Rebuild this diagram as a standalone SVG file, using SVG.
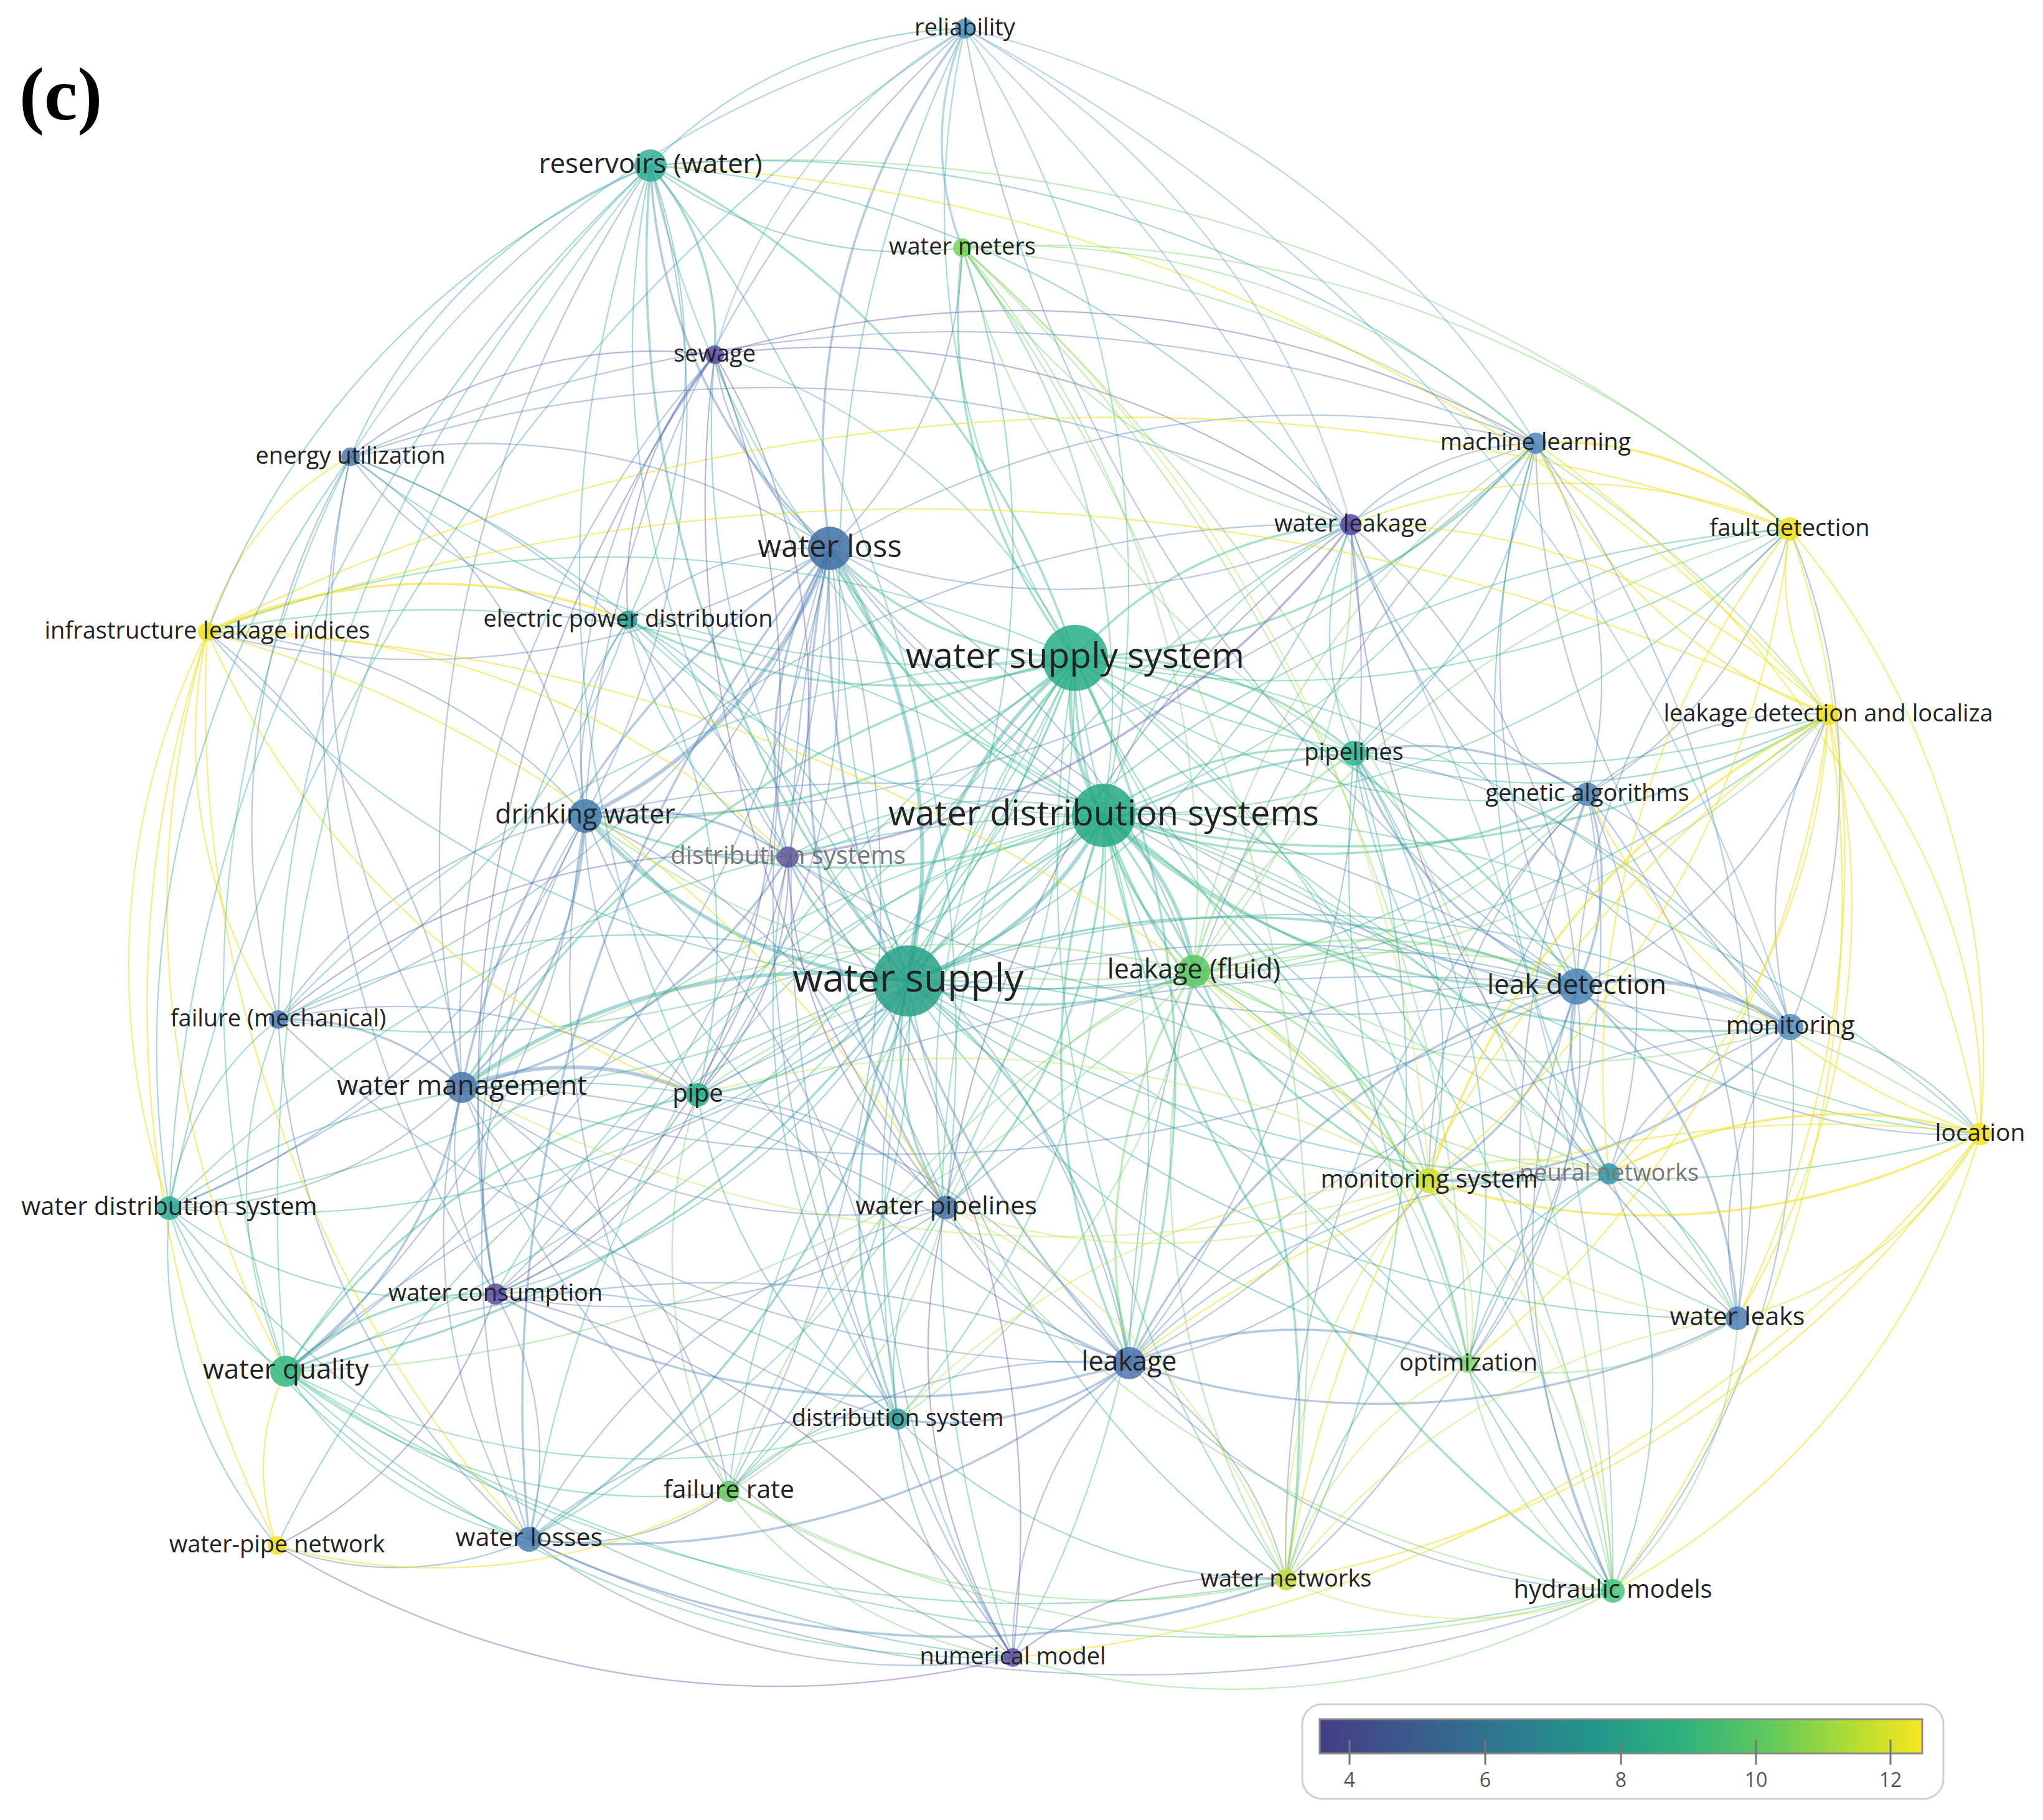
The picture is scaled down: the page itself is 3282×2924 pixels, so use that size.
<svg xmlns="http://www.w3.org/2000/svg" width="3282" height="2924" viewBox="0 0 3282 2924">
<defs>
<linearGradient id="vir" x1="0" y1="0" x2="1" y2="0">
<stop offset="0" stop-color="#443d84"/><stop offset="0.15" stop-color="#3b5a8c"/><stop offset="0.3" stop-color="#2e778e"/><stop offset="0.45" stop-color="#22958a"/><stop offset="0.6" stop-color="#2db27d"/><stop offset="0.75" stop-color="#62c95b"/><stop offset="0.88" stop-color="#b0dc34"/><stop offset="1" stop-color="#f8e621"/>
</linearGradient>
<style>
.e path{fill:none;stroke-linecap:round;stroke-opacity:.42}
.T{stroke:#2aa39a}.G{stroke:#33b585}.B{stroke:#4f80b8}.P{stroke:#5d52b0}.N{stroke:#6dcf63}.L{stroke:#bfdf3c}.Y{stroke:#efe020;stroke-opacity:.58!important}.C{stroke:#5aa0cc}
.a{stroke-width:2.2}.b{stroke-width:3.6}.c{stroke-width:6}
.n text{font-family:"Open Sans","DejaVu Sans",sans-serif;fill:#222;text-anchor:middle}
.n circle{fill-opacity:.85}
.gr{fill:#777!important}
</style>
</defs>
<rect width="3282" height="2924" fill="#fff"/>
<text x="31" y="192" font-family="Liberation Serif" font-weight="bold" font-size="120" fill="#000">(c)</text>
<g id="connectors" class="e">
<path class="T b" d="M1459 1576A1800 1800 0 0 1 1045 266"/>
<path class="T a" d="M1459 1576A1500 1500 0 0 0 1546 398"/>
<path class="T a" d="M1459 1576A1400 1400 0 0 1 1148 570"/>
<path class="T a" d="M1459 1576A1600 1600 0 0 0 563 734"/>
<path class="T a" d="M1459 1576A1700 1700 0 0 1 2467 712"/>
<path class="T a" d="M1459 1576A1300 1300 0 0 0 2170 843"/>
<path class="T a" d="M1459 1576A2000 2000 0 0 1 2875 850"/>
<path class="T c" d="M1459 1576A900 900 0 0 0 1333 881"/>
<path class="T a" d="M1459 1576A1600 1600 0 0 1 333 1015"/>
<path class="T a" d="M1459 1576A950 950 0 0 0 1009 996"/>
<path class="T c" d="M1459 1576A760 760 0 0 1 1727 1057"/>
<path class="T a" d="M1459 1576A2000 2000 0 0 0 2937 1148"/>
<path class="T b" d="M1459 1576A1050 1050 0 0 1 2175 1210"/>
<path class="T a" d="M1459 1576A1450 1450 0 0 0 2550 1276"/>
<path class="T c" d="M1459 1576A760 760 0 0 1 940 1311"/>
<path class="T c" d="M1459 1576A540 540 0 0 0 1773 1310"/>
<path class="T b" d="M1459 1576A360 360 0 0 1 1266 1377"/>
<path class="T b" d="M1459 1576A600 600 0 0 0 1918 1560"/>
<path class="T b" d="M1459 1576A1400 1400 0 0 1 2533 1585"/>
<path class="T a" d="M1459 1576A1300 1300 0 0 0 447 1638"/>
<path class="T a" d="M1459 1576A1850 1850 0 0 1 2876 1650"/>
<path class="T c" d="M1459 1576A960 960 0 0 0 742 1747"/>
<path class="T b" d="M1459 1576A500 500 0 0 1 1121 1759"/>
<path class="T a" d="M1459 1576A2250 2250 0 0 0 3181 1822"/>
<path class="T a" d="M1459 1576A1150 1150 0 0 1 2296 1897"/>
<path class="T a" d="M1459 1576A1500 1500 0 0 0 2585 1886"/>
<path class="T a" d="M1459 1576A1600 1600 0 0 1 272 1941"/>
<path class="T b" d="M1459 1576A480 480 0 0 0 1520 1940"/>
<path class="T a" d="M1459 1576A1080 1080 0 0 1 796 2079"/>
<path class="T a" d="M1459 1576A1850 1850 0 0 0 2791 2118"/>
<path class="T b" d="M1459 1576A920 920 0 0 1 1814 2190"/>
<path class="T a" d="M1459 1576A1400 1400 0 0 0 2359 2191"/>
<path class="T b" d="M1459 1576A1530 1530 0 0 1 459 2203"/>
<path class="T b" d="M1459 1576A920 920 0 0 0 1442 2280"/>
<path class="T a" d="M1459 1576A1130 1130 0 0 1 1171 2396"/>
<path class="T a" d="M1459 1576A1770 1770 0 0 0 445 2483"/>
<path class="T b" d="M1459 1576A1400 1400 0 0 1 850 2473"/>
<path class="T a" d="M1459 1576A1480 1480 0 0 0 2066 2538"/>
<path class="T a" d="M1459 1576A1950 1950 0 0 1 2591 2556"/>
<path class="T a" d="M1459 1576A1430 1430 0 0 0 1627 2663"/>
<path class="T a" d="M1459 1576A2000 2000 0 0 1 1550 46"/>
<path class="G b" d="M1727 1057A1350 1350 0 0 0 1045 266"/>
<path class="G b" d="M1727 1057A890 890 0 0 1 1546 398"/>
<path class="G a" d="M1727 1057A980 980 0 0 0 1148 570"/>
<path class="G a" d="M1727 1057A1570 1570 0 0 1 563 734"/>
<path class="G b" d="M1727 1057A1060 1060 0 0 0 2467 712"/>
<path class="G b" d="M1727 1057A640 640 0 0 1 2170 843"/>
<path class="G a" d="M1727 1057A1500 1500 0 0 0 2875 850"/>
<path class="G b" d="M1727 1057A560 560 0 0 1 1333 881"/>
<path class="G a" d="M1727 1057A1800 1800 0 0 0 333 1015"/>
<path class="G b" d="M1727 1057A940 940 0 0 1 1009 996"/>
<path class="G a" d="M1727 1057A1580 1580 0 0 0 2937 1148"/>
<path class="G b" d="M1727 1057A620 620 0 0 1 2175 1210"/>
<path class="G a" d="M1727 1057A1100 1100 0 0 0 2550 1276"/>
<path class="G b" d="M1727 1057A1080 1080 0 0 1 940 1311"/>
<path class="G c" d="M1727 1057A340 340 0 0 0 1773 1310"/>
<path class="G a" d="M1727 1057A730 730 0 0 1 1266 1377"/>
<path class="G b" d="M1727 1057A700 700 0 0 0 1918 1560"/>
<path class="G b" d="M1727 1057A1250 1250 0 0 1 2533 1585"/>
<path class="G a" d="M1727 1057A1830 1830 0 0 0 447 1638"/>
<path class="G a" d="M1727 1057A1680 1680 0 0 1 2876 1650"/>
<path class="G b" d="M1727 1057A1560 1560 0 0 0 742 1747"/>
<path class="G a" d="M1727 1057A1200 1200 0 0 1 1121 1759"/>
<path class="G a" d="M1727 1057A2140 2140 0 0 0 3181 1822"/>
<path class="G a" d="M1727 1057A1320 1320 0 0 1 2296 1897"/>
<path class="G a" d="M1727 1057A1550 1550 0 0 0 2585 1886"/>
<path class="G a" d="M1727 1057A2200 2200 0 0 1 272 1941"/>
<path class="G a" d="M1727 1057A1180 1180 0 0 0 1520 1940"/>
<path class="G a" d="M1727 1057A1800 1800 0 0 1 796 2079"/>
<path class="G a" d="M1727 1057A1950 1950 0 0 0 2791 2118"/>
<path class="G b" d="M1727 1057A1480 1480 0 0 1 1814 2190"/>
<path class="G a" d="M1727 1057A1690 1690 0 0 0 2359 2191"/>
<path class="G a" d="M1727 1057A2220 2220 0 0 1 459 2203"/>
<path class="G a" d="M1727 1057A1630 1630 0 0 0 1442 2280"/>
<path class="G a" d="M1727 1057A1880 1880 0 0 1 1171 2396"/>
<path class="G a" d="M1727 1057A1970 1970 0 0 0 2066 2538"/>
<path class="G a" d="M1727 1057A2250 2250 0 0 1 2591 2556"/>
<path class="G a" d="M1727 1057A2090 2090 0 0 0 1627 2663"/>
<path class="G a" d="M1727 1057A1330 1330 0 0 1 1550 46"/>
<path class="G a" d="M1727 1057A2170 2170 0 0 0 850 2473"/>
<path class="G a" d="M1773 1310A1650 1650 0 0 1 1045 266"/>
<path class="G a" d="M1773 1310A1220 1220 0 0 0 1546 398"/>
<path class="G a" d="M1773 1310A1260 1260 0 0 1 1148 570"/>
<path class="G a" d="M1773 1310A1190 1190 0 0 0 2467 712"/>
<path class="G a" d="M1773 1310A800 800 0 0 1 2170 843"/>
<path class="G a" d="M1773 1310A1550 1550 0 0 0 2875 850"/>
<path class="G b" d="M1773 1310A800 800 0 0 1 1333 881"/>
<path class="G a" d="M1773 1310A1910 1910 0 0 0 333 1015"/>
<path class="G a" d="M1773 1310A1070 1070 0 0 1 1009 996"/>
<path class="G b" d="M1773 1310A1530 1530 0 0 0 2937 1148"/>
<path class="G b" d="M1773 1310A540 540 0 0 1 2175 1210"/>
<path class="G b" d="M1773 1310A1010 1010 0 0 0 2550 1276"/>
<path class="G b" d="M1773 1310A1080 1080 0 0 1 940 1311"/>
<path class="G a" d="M1773 1310A660 660 0 0 0 1266 1377"/>
<path class="G c" d="M1773 1310A380 380 0 0 1 1918 1560"/>
<path class="G b" d="M1773 1310A1050 1050 0 0 0 2533 1585"/>
<path class="G a" d="M1773 1310A1780 1780 0 0 1 447 1638"/>
<path class="G b" d="M1773 1310A1500 1500 0 0 0 2876 1650"/>
<path class="G a" d="M1773 1310A1460 1460 0 0 1 742 1747"/>
<path class="G a" d="M1773 1310A1030 1030 0 0 0 1121 1759"/>
<path class="G a" d="M1773 1310A1950 1950 0 0 1 3181 1822"/>
<path class="G b" d="M1773 1310A1020 1020 0 0 0 2296 1897"/>
<path class="G a" d="M1773 1310A1290 1290 0 0 1 2585 1886"/>
<path class="G a" d="M1773 1310A2120 2120 0 0 0 272 1941"/>
<path class="G b" d="M1773 1310A880 880 0 0 1 1520 1940"/>
<path class="G a" d="M1773 1310A1620 1620 0 0 0 796 2079"/>
<path class="G a" d="M1773 1310A1690 1690 0 0 1 2791 2118"/>
<path class="G b" d="M1773 1310A1150 1150 0 0 0 1814 2190"/>
<path class="G b" d="M1773 1310A1380 1380 0 0 1 2359 2191"/>
<path class="G a" d="M1773 1310A2070 2070 0 0 0 459 2203"/>
<path class="G a" d="M1773 1310A1330 1330 0 0 1 1442 2280"/>
<path class="G a" d="M1773 1310A1610 1610 0 0 0 1171 2396"/>
<path class="G b" d="M1773 1310A1640 1640 0 0 1 2066 2538"/>
<path class="G b" d="M1773 1310A1940 1940 0 0 0 2591 2556"/>
<path class="G a" d="M1773 1310A1770 1770 0 0 1 1627 2663"/>
<path class="G a" d="M1773 1310A1670 1670 0 0 0 1550 46"/>
<path class="G a" d="M1773 1310A1930 1930 0 0 1 850 2473"/>
<path class="B b" d="M1333 881A880 880 0 0 1 1045 266"/>
<path class="B a" d="M1333 881A690 690 0 0 0 1546 398"/>
<path class="B a" d="M1333 881A470 470 0 0 1 1148 570"/>
<path class="B a" d="M1333 881A1020 1020 0 0 0 563 734"/>
<path class="B a" d="M1333 881A1490 1490 0 0 1 2467 712"/>
<path class="B a" d="M1333 881A1090 1090 0 0 0 2170 843"/>
<path class="B a" d="M1333 881A1310 1310 0 0 1 333 1015"/>
<path class="B a" d="M1333 881A450 450 0 0 0 1009 996"/>
<path class="B c" d="M1333 881A760 760 0 0 1 940 1311"/>
<path class="B b" d="M1333 881A650 650 0 0 0 1266 1377"/>
<path class="B a" d="M1333 881A1160 1160 0 0 1 1918 1560"/>
<path class="B a" d="M1333 881A1810 1810 0 0 0 2533 1585"/>
<path class="B a" d="M1333 881A1520 1520 0 0 1 447 1638"/>
<path class="B b" d="M1333 881A1360 1360 0 0 0 742 1747"/>
<path class="B a" d="M1333 881A1170 1170 0 0 1 1121 1759"/>
<path class="B b" d="M1333 881A1400 1400 0 0 0 1520 1940"/>
<path class="B a" d="M1333 881A1710 1710 0 0 1 796 2079"/>
<path class="B b" d="M1333 881A1810 1810 0 0 0 1814 2190"/>
<path class="B a" d="M1333 881A2060 2060 0 0 1 459 2203"/>
<path class="B a" d="M1333 881A1820 1820 0 0 0 1442 2280"/>
<path class="B a" d="M1333 881A1980 1980 0 0 1 1171 2396"/>
<path class="B b" d="M1333 881A2160 2160 0 0 0 850 2473"/>
<path class="B a" d="M1333 881A1950 1950 0 0 1 272 1941"/>
<path class="B a" d="M1333 881A2240 2240 0 0 0 2876 1650"/>
<path class="B b" d="M1333 881A1120 1120 0 0 1 1550 46"/>
<path class="B a" d="M1333 881A2350 2350 0 0 0 1627 2663"/>
<path class="N a" d="M1918 1560A1590 1590 0 0 0 1546 398"/>
<path class="N b" d="M1918 1560A560 560 0 0 1 2175 1210"/>
<path class="N a" d="M1918 1560A900 900 0 0 0 2550 1276"/>
<path class="N b" d="M1918 1560A800 800 0 0 1 2533 1585"/>
<path class="N a" d="M1918 1560A1250 1250 0 0 0 2876 1650"/>
<path class="N b" d="M1918 1560A660 660 0 0 1 2296 1897"/>
<path class="N a" d="M1918 1560A960 960 0 0 0 2585 1886"/>
<path class="N a" d="M1918 1560A1680 1680 0 0 1 3181 1822"/>
<path class="N b" d="M1918 1560A830 830 0 0 0 1814 2190"/>
<path class="N a" d="M1918 1560A1000 1000 0 0 1 2359 2191"/>
<path class="N a" d="M1918 1560A1290 1290 0 0 0 2066 2538"/>
<path class="N a" d="M1918 1560A1560 1560 0 0 1 2591 2556"/>
<path class="N a" d="M1918 1560A720 720 0 0 0 1520 1940"/>
<path class="N a" d="M1918 1560A1120 1120 0 0 1 1442 2280"/>
<path class="N a" d="M1918 1560A1460 1460 0 0 0 1171 2396"/>
<path class="N a" d="M1918 1560A1350 1350 0 0 1 2791 2118"/>
<path class="N a" d="M1918 1560A1430 1430 0 0 0 2937 1148"/>
<path class="N a" d="M1918 1560A1550 1550 0 0 1 2875 850"/>
<path class="N a" d="M1918 1560A990 990 0 0 0 2170 843"/>
<path class="N a" d="M1918 1560A1310 1310 0 0 1 2467 712"/>
<path class="N a" d="M1918 1560A1070 1070 0 0 0 1121 1759"/>
<path class="N a" d="M1918 1560A1310 1310 0 0 1 940 1311"/>
<path class="N a" d="M1918 1560A1550 1550 0 0 0 742 1747"/>
<path class="N a" d="M1918 1560A2070 2070 0 0 1 459 2203"/>
<path class="B a" d="M2533 1585A1140 1140 0 0 1 2467 712"/>
<path class="B a" d="M2533 1585A1070 1070 0 0 0 2170 843"/>
<path class="B a" d="M2533 1585A1050 1050 0 0 1 2875 850"/>
<path class="B a" d="M2533 1585A770 770 0 0 0 2937 1148"/>
<path class="B b" d="M2533 1585A670 670 0 0 1 2175 1210"/>
<path class="B b" d="M2533 1585A400 400 0 0 0 2550 1276"/>
<path class="B c" d="M2533 1585A450 450 0 0 1 2876 1650"/>
<path class="B a" d="M2533 1585A900 900 0 0 0 3181 1822"/>
<path class="B b" d="M2533 1585A510 510 0 0 1 2296 1897"/>
<path class="B b" d="M2533 1585A400 400 0 0 0 2585 1886"/>
<path class="B b" d="M2533 1585A770 770 0 0 1 2791 2118"/>
<path class="B b" d="M2533 1585A1220 1220 0 0 0 1814 2190"/>
<path class="B a" d="M2533 1585A820 820 0 0 1 2359 2191"/>
<path class="B a" d="M2533 1585A1260 1260 0 0 0 2591 2556"/>
<path class="B a" d="M2533 1585A1380 1380 0 0 1 2066 2538"/>
<path class="B a" d="M2533 1585A2100 2100 0 0 0 940 1311"/>
<path class="B a" d="M2533 1585A2340 2340 0 0 1 742 1747"/>
<path class="B a" d="M2533 1585A1400 1400 0 0 0 1520 1940"/>
<path class="B a" d="M2533 1585A2370 2370 0 0 1 1550 46"/>
<path class="B a" d="M2533 1585A1850 1850 0 0 0 1121 1759"/>
<path class="B a" d="M2533 1585A1670 1670 0 0 1 1266 1377"/>
<path class="B a" d="M2533 1585A2800 2800 0 0 0 459 2203"/>
<path class="B a" d="M940 1311A1370 1370 0 0 0 1045 266"/>
<path class="B a" d="M940 1311A1000 1000 0 0 1 1148 570"/>
<path class="B a" d="M940 1311A900 900 0 0 0 563 734"/>
<path class="B a" d="M940 1311A420 420 0 0 1 1009 996"/>
<path class="B a" d="M940 1311A880 880 0 0 0 333 1015"/>
<path class="B b" d="M940 1311A430 430 0 0 1 1266 1377"/>
<path class="B a" d="M940 1311A770 770 0 0 0 447 1638"/>
<path class="B b" d="M940 1311A620 620 0 0 1 742 1747"/>
<path class="B a" d="M940 1311A630 630 0 0 0 1121 1759"/>
<path class="B a" d="M940 1311A1190 1190 0 0 1 272 1941"/>
<path class="B a" d="M940 1311A1020 1020 0 0 0 796 2079"/>
<path class="B a" d="M940 1311A1320 1320 0 0 1 459 2203"/>
<path class="B a" d="M940 1311A1510 1510 0 0 0 850 2473"/>
<path class="B a" d="M940 1311A1110 1110 0 0 1 1520 1940"/>
<path class="B a" d="M940 1311A1610 1610 0 0 0 1814 2190"/>
<path class="B a" d="M940 1311A1420 1420 0 0 1 1442 2280"/>
<path class="B a" d="M940 1311A1440 1440 0 0 0 1171 2396"/>
<path class="B a" d="M940 1311A1830 1830 0 0 1 1550 46"/>
<path class="B a" d="M940 1311A2130 2130 0 0 0 2467 712"/>
<path class="B a" d="M940 1311A1710 1710 0 0 1 2170 843"/>
<path class="B a" d="M742 1747A1340 1340 0 0 1 563 734"/>
<path class="B b" d="M742 1747A410 410 0 0 0 447 1638"/>
<path class="B a" d="M742 1747A660 660 0 0 1 272 1941"/>
<path class="B a" d="M742 1747A440 440 0 0 0 796 2079"/>
<path class="B b" d="M742 1747A700 700 0 0 1 459 2203"/>
<path class="B a" d="M742 1747A950 950 0 0 0 850 2473"/>
<path class="B c" d="M742 1747A490 490 0 0 1 1121 1759"/>
<path class="B a" d="M742 1747A1040 1040 0 0 0 1520 1940"/>
<path class="B a" d="M742 1747A1510 1510 0 0 1 1814 2190"/>
<path class="B a" d="M742 1747A1140 1140 0 0 0 1442 2280"/>
<path class="B a" d="M742 1747A1010 1010 0 0 1 1171 2396"/>
<path class="B a" d="M742 1747A1090 1090 0 0 0 333 1015"/>
<path class="B a" d="M742 1747A1970 1970 0 0 1 1045 266"/>
<path class="B b" d="M742 1747A830 830 0 0 0 1266 1377"/>
<path class="B a" d="M742 1747A1620 1620 0 0 1 1148 570"/>
<path class="B a" d="M742 1747A1650 1650 0 0 0 1627 2663"/>
<path class="B a" d="M1814 2190A1810 1810 0 0 0 2170 843"/>
<path class="B a" d="M1814 2190A2100 2100 0 0 1 2467 712"/>
<path class="B a" d="M1814 2190A1520 1520 0 0 0 2550 1276"/>
<path class="B a" d="M1814 2190A1550 1550 0 0 1 2876 1650"/>
<path class="B b" d="M1814 2190A1270 1270 0 0 0 2791 2118"/>
<path class="B b" d="M1814 2190A710 710 0 0 1 2359 2191"/>
<path class="B a" d="M1814 2190A1120 1120 0 0 0 2591 2556"/>
<path class="B a" d="M1814 2190A560 560 0 0 1 2066 2538"/>
<path class="B a" d="M1814 2190A660 660 0 0 0 1627 2663"/>
<path class="B b" d="M1814 2190A500 500 0 0 1 1442 2280"/>
<path class="B a" d="M1814 2190A880 880 0 0 0 1171 2396"/>
<path class="B b" d="M1814 2190A1310 1310 0 0 1 850 2473"/>
<path class="B a" d="M1814 2190A1760 1760 0 0 0 459 2203"/>
<path class="B b" d="M1814 2190A1330 1330 0 0 1 796 2079"/>
<path class="B a" d="M1814 2190A1060 1060 0 0 0 1121 1759"/>
<path class="B a" d="M1814 2190A500 500 0 0 1 1520 1940"/>
<path class="B a" d="M1814 2190A730 730 0 0 0 2296 1897"/>
<path class="B a" d="M1814 2190A1080 1080 0 0 1 2585 1886"/>
<path class="B a" d="M1814 2190A1270 1270 0 0 0 1266 1377"/>
<path class="B a" d="M1814 2190A1920 1920 0 0 1 447 1638"/>
<path class="B a" d="M2876 1650A1330 1330 0 0 1 2467 712"/>
<path class="B a" d="M2876 1650A1040 1040 0 0 0 2875 850"/>
<path class="B a" d="M2876 1650A660 660 0 0 1 2937 1148"/>
<path class="B a" d="M2876 1650A640 640 0 0 0 2550 1276"/>
<path class="B a" d="M2876 1650A450 450 0 0 1 3181 1822"/>
<path class="B a" d="M2876 1650A490 490 0 0 0 2585 1886"/>
<path class="B b" d="M2876 1650A820 820 0 0 1 2296 1897"/>
<path class="B a" d="M2876 1650A620 620 0 0 0 2791 2118"/>
<path class="B a" d="M2876 1650A1240 1240 0 0 1 2591 2556"/>
<path class="B a" d="M2876 1650A1080 1080 0 0 0 2175 1210"/>
<path class="B a" d="M2876 1650A1400 1400 0 0 1 2170 843"/>
<path class="B a" d="M2550 1276A740 740 0 0 0 2467 712"/>
<path class="B a" d="M2550 1276A750 750 0 0 1 2170 843"/>
<path class="B a" d="M2550 1276A700 700 0 0 0 2875 850"/>
<path class="B a" d="M2550 1276A530 530 0 0 1 2937 1148"/>
<path class="B b" d="M2550 1276A500 500 0 0 0 2175 1210"/>
<path class="B a" d="M2550 1276A800 800 0 0 1 2585 1886"/>
<path class="B a" d="M2550 1276A870 870 0 0 0 2296 1897"/>
<path class="B a" d="M2550 1276A1140 1140 0 0 1 2791 2118"/>
<path class="B a" d="M2550 1276A1660 1660 0 0 0 2591 2556"/>
<path class="B a" d="M2550 1276A1220 1220 0 0 1 2359 2191"/>
<path class="B a" d="M2550 1276A1760 1760 0 0 0 2066 2538"/>
<path class="T a" d="M2175 1210A480 480 0 0 1 2170 843"/>
<path class="T a" d="M2175 1210A750 750 0 0 0 2467 712"/>
<path class="T a" d="M2175 1210A1020 1020 0 0 1 2875 850"/>
<path class="T a" d="M2175 1210A1000 1000 0 0 0 2937 1148"/>
<path class="T a" d="M2175 1210A910 910 0 0 1 2296 1897"/>
<path class="T a" d="M2175 1210A1030 1030 0 0 0 2585 1886"/>
<path class="T a" d="M2175 1210A1300 1300 0 0 1 2359 2191"/>
<path class="T a" d="M2175 1210A1830 1830 0 0 0 2591 2556"/>
<path class="T a" d="M2175 1210A1730 1730 0 0 1 2066 2538"/>
<path class="T a" d="M2175 1210A1530 1530 0 0 0 3181 1822"/>
<path class="Y a" d="M3181 1822A1320 1320 0 0 0 2875 850"/>
<path class="Y a" d="M3181 1822A930 930 0 0 0 2937 1148"/>
<path class="Y a" d="M3181 1822A1720 1720 0 0 0 2467 712"/>
<path class="Y b" d="M3181 1822A1150 1150 0 0 1 2296 1897"/>
<path class="Y b" d="M3181 1822A780 780 0 0 0 2585 1886"/>
<path class="Y a" d="M3181 1822A640 640 0 0 1 2791 2118"/>
<path class="Y a" d="M3181 1822A1080 1080 0 0 1 2550 1276"/>
<path class="Y a" d="M3181 1822A1220 1220 0 0 1 2591 2556"/>
<path class="Y a" d="M3181 1822A1720 1720 0 0 1 2066 2538"/>
<path class="Y a" d="M3181 1822A2300 2300 0 0 1 1627 2663"/>
<path class="Y a" d="M3181 1822A1840 1840 0 0 0 1814 2190"/>
<path class="Y b" d="M2875 850A560 560 0 0 0 2467 712"/>
<path class="Y a" d="M2875 850A400 400 0 0 0 2937 1148"/>
<path class="Y a" d="M2875 850A1560 1560 0 0 1 2296 1897"/>
<path class="Y a" d="M2875 850A1400 1400 0 0 0 2585 1886"/>
<path class="Y a" d="M2875 850A1650 1650 0 0 1 2791 2118"/>
<path class="Y a" d="M2875 850A920 920 0 0 0 2170 843"/>
<path class="Y a" d="M2937 1148A830 830 0 0 1 2467 712"/>
<path class="Y b" d="M2937 1148A1280 1280 0 0 0 2296 1897"/>
<path class="Y a" d="M2937 1148A1060 1060 0 0 1 2585 1886"/>
<path class="Y a" d="M2937 1148A1280 1280 0 0 1 2791 2118"/>
<path class="Y a" d="M2937 1148A2130 2130 0 0 0 2066 2538"/>
<path class="Y a" d="M2937 1148A1550 1550 0 0 1 2359 2191"/>
<path class="Y a" d="M2937 1148A2710 2710 0 0 0 1045 266"/>
<path class="Y a" d="M2937 1148A1070 1070 0 0 0 2170 843"/>
<path class="Y a" d="M2937 1148A1880 1880 0 0 1 2591 2556"/>
<path class="L b" d="M2296 1897A380 380 0 0 1 2585 1886"/>
<path class="L a" d="M2296 1897A700 700 0 0 0 2791 2118"/>
<path class="L a" d="M2296 1897A390 390 0 0 1 2359 2191"/>
<path class="L a" d="M2296 1897A890 890 0 0 0 2066 2538"/>
<path class="L a" d="M2296 1897A940 940 0 0 1 2591 2556"/>
<path class="L a" d="M2296 1897A1220 1220 0 0 0 1442 2280"/>
<path class="L a" d="M2296 1897A1010 1010 0 0 1 1520 1940"/>
<path class="L a" d="M2296 1897A1540 1540 0 0 0 1121 1759"/>
<path class="L a" d="M2296 1897A2030 2030 0 0 1 742 1747"/>
<path class="L a" d="M2296 1897A2180 2180 0 0 0 1546 398"/>
<path class="T a" d="M2585 1886A400 400 0 0 1 2791 2118"/>
<path class="T a" d="M2585 1886A490 490 0 0 0 2359 2191"/>
<path class="T a" d="M2585 1886A870 870 0 0 1 2591 2556"/>
<path class="T a" d="M2585 1886A1080 1080 0 0 0 2066 2538"/>
<path class="T a" d="M2585 1886A1530 1530 0 0 1 2467 712"/>
<path class="Y a" d="M333 1015A470 470 0 0 1 563 734"/>
<path class="Y b" d="M333 1015A880 880 0 0 1 1009 996"/>
<path class="Y a" d="M333 1015A1200 1200 0 0 0 272 1941"/>
<path class="Y a" d="M333 1015A1550 1550 0 0 0 459 2203"/>
<path class="Y a" d="M333 1015A1910 1910 0 0 0 445 2483"/>
<path class="Y a" d="M333 1015A820 820 0 0 0 447 1638"/>
<path class="Y a" d="M333 1015A1300 1300 0 0 1 1266 1377"/>
<path class="Y a" d="M333 1015A1410 1410 0 0 0 1121 1759"/>
<path class="Y a" d="M333 1015A2010 2010 0 0 0 850 2473"/>
<path class="Y a" d="M333 1015A1960 1960 0 0 1 1520 1940"/>
<path class="Y a" d="M333 1015A3300 3300 0 0 1 2875 850"/>
<path class="Y a" d="M333 1015A2800 2800 0 0 1 2296 1897"/>
<path class="Y a" d="M333 1015A3400 3400 0 0 1 2937 1148"/>
<path class="T a" d="M1045 266A1340 1340 0 0 0 333 1015"/>
<path class="G a" d="M459 2203A420 420 0 0 1 272 1941"/>
<path class="Y a" d="M459 2203A360 360 0 0 0 445 2483"/>
<path class="G a" d="M459 2203A620 620 0 0 0 850 2473"/>
<path class="G b" d="M459 2203A470 470 0 0 1 796 2079"/>
<path class="G a" d="M459 2203A960 960 0 0 0 1171 2396"/>
<path class="G b" d="M459 2203A1040 1040 0 0 1 1121 1759"/>
<path class="G a" d="M459 2203A1280 1280 0 0 0 1442 2280"/>
<path class="G a" d="M459 2203A1630 1630 0 0 0 1627 2663"/>
<path class="G a" d="M459 2203A730 730 0 0 1 447 1638"/>
<path class="G a" d="M459 2203A1910 1910 0 0 1 563 734"/>
<path class="G a" d="M459 2203A2630 2630 0 0 1 1045 266"/>
<path class="G a" d="M459 2203A2810 2810 0 0 0 2591 2556"/>
<path class="G a" d="M459 2203A2130 2130 0 0 0 2066 2538"/>
<path class="T a" d="M272 1941A460 460 0 0 1 447 1638"/>
<path class="T a" d="M272 1941A1610 1610 0 0 1 563 734"/>
<path class="T a" d="M272 1941A2400 2400 0 0 1 1045 266"/>
<path class="T a" d="M272 1941A700 700 0 0 0 796 2079"/>
<path class="T a" d="M272 1941A1020 1020 0 0 0 850 2473"/>
<path class="T a" d="M272 1941A740 740 0 0 0 445 2483"/>
<path class="T a" d="M272 1941A1130 1130 0 0 1 1121 1759"/>
<path class="T a" d="M272 1941A2000 2000 0 0 0 1627 2663"/>
<path class="T a" d="M272 1941A2970 2970 0 0 1 1550 46"/>
<path class="B a" d="M850 2473A530 530 0 0 1 445 2483"/>
<path class="B a" d="M850 2473A430 430 0 0 0 1171 2396"/>
<path class="B a" d="M850 2473A1040 1040 0 0 0 1627 2663"/>
<path class="B a" d="M850 2473A810 810 0 0 1 1442 2280"/>
<path class="B a" d="M850 2473A520 520 0 0 0 796 2079"/>
<path class="B b" d="M850 2473A1580 1580 0 0 0 2066 2538"/>
<path class="B a" d="M850 2473A2270 2270 0 0 0 2591 2556"/>
<path class="B a" d="M850 2473A1110 1110 0 0 1 1520 1940"/>
<path class="B a" d="M850 2473A1200 1200 0 0 1 447 1638"/>
<path class="N a" d="M1171 2396A380 380 0 0 1 1442 2280"/>
<path class="N a" d="M1171 2396A750 750 0 0 0 1520 1940"/>
<path class="N a" d="M1171 2396A690 690 0 0 0 1627 2663"/>
<path class="N a" d="M1171 2396A830 830 0 0 1 1121 1759"/>
<path class="Y a" d="M1171 2396A950 950 0 0 1 445 2483"/>
<path class="N a" d="M1171 2396A1860 1860 0 0 0 2591 2556"/>
<path class="N a" d="M1171 2396A1180 1180 0 0 0 2066 2538"/>
<path class="T a" d="M1442 2280A450 450 0 0 1 1520 1940"/>
<path class="T a" d="M1442 2280A550 550 0 0 0 1627 2663"/>
<path class="T a" d="M1442 2280A800 800 0 0 1 1121 1759"/>
<path class="T a" d="M1442 2280A880 880 0 0 0 796 2079"/>
<path class="T a" d="M1442 2280A1200 1200 0 0 1 1266 1377"/>
<path class="T a" d="M1442 2280A880 880 0 0 0 2066 2538"/>
<path class="P a" d="M1627 2663A950 950 0 0 1 1520 1940"/>
<path class="P a" d="M1627 2663A1740 1740 0 0 0 1266 1377"/>
<path class="P a" d="M1627 2663A590 590 0 0 1 2066 2538"/>
<path class="N a" d="M1627 2663A1260 1260 0 0 0 2591 2556"/>
<path class="P a" d="M1627 2663A1320 1320 0 0 0 796 2079"/>
<path class="P a" d="M445 2483A1550 1550 0 0 0 1627 2663"/>
<path class="L a" d="M2066 2538A680 680 0 0 0 2591 2556"/>
<path class="L a" d="M2066 2538A590 590 0 0 1 2359 2191"/>
<path class="L a" d="M2066 2538A1050 1050 0 0 0 1520 1940"/>
<path class="L a" d="M2066 2538A1090 1090 0 0 1 2791 2118"/>
<path class="N a" d="M2591 2556A560 560 0 0 1 2359 2191"/>
<path class="N a" d="M2591 2556A630 630 0 0 0 2791 2118"/>
<path class="N a" d="M2591 2556A1610 1610 0 0 1 1520 1940"/>
<path class="T a" d="M1045 266A670 670 0 0 0 1546 398"/>
<path class="T b" d="M1045 266A420 420 0 0 1 1148 570"/>
<path class="T a" d="M1045 266A870 870 0 0 0 563 734"/>
<path class="T a" d="M1045 266A950 950 0 0 1 1009 996"/>
<path class="T a" d="M1045 266A1470 1470 0 0 0 1266 1377"/>
<path class="N a" d="M1045 266A2500 2500 0 0 1 2875 850"/>
<path class="T a" d="M1045 266A720 720 0 0 1 1550 46"/>
<path class="T a" d="M1045 266A1940 1940 0 0 1 2467 712"/>
<path class="T a" d="M1045 266A1940 1940 0 0 0 1121 1759"/>
<path class="T a" d="M1045 266A2260 2260 0 0 1 1520 1940"/>
<path class="T a" d="M1045 266A1950 1950 0 0 0 447 1638"/>
<path class="T a" d="M1045 266A1640 1640 0 0 1 2170 843"/>
<path class="C b" d="M1550 46A460 460 0 0 0 1546 398"/>
<path class="C a" d="M1550 46A860 860 0 0 0 1148 570"/>
<path class="C a" d="M1550 46A1470 1470 0 0 1 2467 712"/>
<path class="C a" d="M1550 46A3500 3500 0 0 1 2591 2556"/>
<path class="C a" d="M1550 46A2700 2700 0 0 1 2876 1650"/>
<path class="C a" d="M1550 46A1560 1560 0 0 0 563 734"/>
<path class="C a" d="M1550 46A1310 1310 0 0 1 2170 843"/>
<path class="P a" d="M1148 570A790 790 0 0 0 563 734"/>
<path class="P a" d="M1148 570A1060 1060 0 0 1 1266 1377"/>
<path class="P a" d="M1148 570A580 580 0 0 0 1009 996"/>
<path class="P a" d="M1148 570A1380 1380 0 0 1 2170 843"/>
<path class="P a" d="M1148 570A1720 1720 0 0 1 2467 712"/>
<path class="P a" d="M1148 570A2010 2010 0 0 0 796 2079"/>
<path class="P a" d="M1148 570A1550 1550 0 0 1 1121 1759"/>
<path class="P a" d="M1148 570A1850 1850 0 0 0 1520 1940"/>
<path class="N a" d="M1546 398A1260 1260 0 0 1 2467 712"/>
<path class="N a" d="M1546 398A1000 1000 0 0 0 2170 843"/>
<path class="N a" d="M1546 398A2050 2050 0 0 1 2937 1148"/>
<path class="N a" d="M1546 398A1340 1340 0 0 0 2175 1210"/>
<path class="N a" d="M1546 398A2560 2560 0 0 1 2359 2191"/>
<path class="N a" d="M1546 398A2860 2860 0 0 1 2066 2538"/>
<path class="N a" d="M1546 398A3120 3120 0 0 1 2591 2556"/>
<path class="N a" d="M1546 398A1820 1820 0 0 1 2875 850"/>
<path class="B a" d="M563 734A670 670 0 0 0 1009 996"/>
<path class="B a" d="M563 734A1240 1240 0 0 1 1266 1377"/>
<path class="B a" d="M563 734A2480 2480 0 0 1 2467 712"/>
<path class="B a" d="M563 734A2090 2090 0 0 1 2170 843"/>
<path class="B a" d="M563 734A1180 1180 0 0 0 447 1638"/>
<path class="B a" d="M563 734A1770 1770 0 0 0 796 2079"/>
<path class="B a" d="M2467 712A420 420 0 0 0 2170 843"/>
<path class="B a" d="M2467 712A1880 1880 0 0 1 2791 2118"/>
<path class="P b" d="M2170 843A1370 1370 0 0 1 1266 1377"/>
<path class="P a" d="M2170 843A1840 1840 0 0 0 2791 2118"/>
<path class="P a" d="M2170 843A1660 1660 0 0 0 1520 1940"/>
<path class="T a" d="M1009 996A600 600 0 0 0 1266 1377"/>
<path class="T a" d="M1009 996A1000 1000 0 0 1 1121 1759"/>
<path class="T a" d="M1009 996A1440 1440 0 0 0 796 2079"/>
<path class="T a" d="M1009 996A1110 1110 0 0 1 447 1638"/>
<path class="P a" d="M1266 1377A530 530 0 0 1 1121 1759"/>
<path class="P a" d="M1266 1377A800 800 0 0 0 1520 1940"/>
<path class="P a" d="M1266 1377A1100 1100 0 0 1 796 2079"/>
<path class="P a" d="M1266 1377A1120 1120 0 0 0 447 1638"/>
<path class="B a" d="M1520 1940A570 570 0 0 0 1121 1759"/>
<path class="B a" d="M1520 1940A960 960 0 0 1 796 2079"/>
<path class="P a" d="M796 2079A590 590 0 0 0 1121 1759"/>
<path class="P a" d="M796 2079A700 700 0 0 1 445 2483"/>
<path class="B a" d="M447 1638A890 890 0 0 1 1121 1759"/>
<path class="N a" d="M2359 2191A570 570 0 0 0 2791 2118"/>
</g>
<g id="nodes" class="n">
<g id="node-reliability"><circle cx="1550" cy="46" r="16" fill="#4a93c0"/><text x="1550" y="46" dy=".28em" font-size="38">reliability</text></g>
<g id="node-reservoirs"><circle cx="1045" cy="266" r="26" fill="#2fae98"/><text x="1045" y="266" dy=".28em" font-size="44">reservoirs (water)</text></g>
<g id="node-water-meters"><circle cx="1546" cy="398" r="15" fill="#73d35a"/><text x="1546" y="398" dy=".28em" font-size="38">water meters</text></g>
<g id="node-sewage"><circle cx="1148" cy="570" r="15" fill="#5b4ea6"/><text x="1148" y="570" dy=".28em" font-size="38">sewage</text></g>
<g id="node-energy-utilization"><circle cx="563" cy="734" r="15" fill="#4a77b4"/><text x="563" y="734" dy=".28em" font-size="38">energy utilization</text></g>
<g id="node-machine-learning"><circle cx="2467" cy="712" r="17" fill="#4d86bc"/><text x="2467" y="712" dy=".28em" font-size="38">machine learning</text></g>
<g id="node-water-leakage"><circle cx="2170" cy="843" r="17" fill="#5747a6"/><text x="2170" y="843" dy=".28em" font-size="38">water leakage</text></g>
<g id="node-fault-detection"><circle cx="2875" cy="850" r="19" fill="#f2e21c"/><text x="2875" y="850" dy=".28em" font-size="38">fault detection</text></g>
<g id="node-water-loss"><circle cx="1333" cy="881" r="35" fill="#3e70a3"/><text x="1333" y="881" dy=".28em" font-size="49">water loss</text></g>
<g id="node-infrastructure-leakage-indices"><circle cx="333" cy="1015" r="15" fill="#efdf1a"/><text x="333" y="1015" dy=".28em" font-size="38">infrastructure leakage indices</text></g>
<g id="node-electric-power-distribution"><circle cx="1009" cy="996" r="15" fill="#22a08f"/><text x="1009" y="996" dy=".28em" font-size="38">electric power distribution</text></g>
<g id="node-leakage-detection-localiza"><circle cx="2937" cy="1148" r="17" fill="#eedf22"/><text x="2937" y="1148" dy=".28em" font-size="38">leakage detection and localiza</text></g>
<g id="node-pipelines"><circle cx="2175" cy="1210" r="20" fill="#2db58c"/><text x="2175" y="1210" dy=".28em" font-size="38">pipelines</text></g>
<g id="node-genetic-algorithms"><circle cx="2550" cy="1276" r="19" fill="#4c82b7"/><text x="2550" y="1276" dy=".28em" font-size="38">genetic algorithms</text></g>
<g id="node-drinking-water"><circle cx="940" cy="1311" r="27" fill="#3f7baa"/><text x="940" y="1311" dy=".28em" font-size="43">drinking water</text></g>
<g id="node-distribution-systems"><circle cx="1266" cy="1377" r="17" fill="#5a53a8"/><text class="gr" x="1266" y="1377" dy=".28em" font-size="40">distribution systems</text></g>
<g id="node-water-supply-system"><circle cx="1727" cy="1057" r="53" fill="#28ad85"/><text x="1727" y="1057" dy=".28em" font-size="57">water supply system</text></g>
<g id="node-water-distribution-systems"><circle cx="1773" cy="1310" r="51" fill="#24a982"/><text x="1773" y="1310" dy=".28em" font-size="56">water distribution systems</text></g>
<g id="node-water-supply"><circle cx="1459" cy="1576" r="57" fill="#27a086"/><text x="1459" y="1576" dy=".28em" font-size="62">water supply</text></g>
<g id="node-leakage-fluid"><circle cx="1918" cy="1560" r="26" fill="#58c761"/><text x="1918" y="1560" dy=".28em" font-size="43">leakage (fluid)</text></g>
<g id="node-leak-detection"><circle cx="2533" cy="1585" r="29" fill="#4a84b6"/><text x="2533" y="1585" dy=".28em" font-size="44">leak detection</text></g>
<g id="node-failure-mechanical"><circle cx="447" cy="1638" r="15" fill="#4a7ab5"/><text x="447" y="1638" dy=".28em" font-size="38">failure (mechanical)</text></g>
<g id="node-monitoring"><circle cx="2876" cy="1650" r="21" fill="#4f8bbd"/><text x="2876" y="1650" dy=".28em" font-size="40">monitoring</text></g>
<g id="node-water-management"><circle cx="742" cy="1747" r="25" fill="#4a75a8"/><text x="742" y="1747" dy=".28em" font-size="44">water management</text></g>
<g id="node-pipe"><circle cx="1121" cy="1759" r="19" fill="#26ab88"/><text x="1121" y="1759" dy=".28em" font-size="40">pipe</text></g>
<g id="node-location"><circle cx="3181" cy="1822" r="18" fill="#f4e21b"/><text x="3181" y="1822" dy=".28em" font-size="39">location</text></g>
<g id="node-neural-networks"><circle cx="2585" cy="1886" r="17" fill="#2e9aa7"/><text class="gr" x="2585" y="1886" dy=".28em" font-size="38">neural networks</text></g>
<g id="node-monitoring-system"><circle cx="2296" cy="1897" r="20" fill="#cfe02b"/><text x="2296" y="1897" dy=".28em" font-size="40">monitoring system</text></g>
<g id="node-water-distribution-system"><circle cx="272" cy="1941" r="19" fill="#2cab95"/><text x="272" y="1941" dy=".28em" font-size="40">water distribution system</text></g>
<g id="node-water-pipelines"><circle cx="1520" cy="1940" r="19" fill="#4373a8"/><text x="1520" y="1940" dy=".28em" font-size="41">water pipelines</text></g>
<g id="node-water-consumption"><circle cx="796" cy="2079" r="17" fill="#5a4ba6"/><text x="796" y="2079" dy=".28em" font-size="38">water consumption</text></g>
<g id="node-water-leaks"><circle cx="2791" cy="2118" r="19" fill="#4d7fb8"/><text x="2791" y="2118" dy=".28em" font-size="41">water leaks</text></g>
<g id="node-leakage"><circle cx="1814" cy="2190" r="26" fill="#4c72ad"/><text x="1814" y="2190" dy=".28em" font-size="43">leakage</text></g>
<g id="node-optimization"><circle cx="2359" cy="2191" r="15" fill="#88d46c"/><text x="2359" y="2191" dy=".28em" font-size="38">optimization</text></g>
<g id="node-water-quality"><circle cx="459" cy="2203" r="25" fill="#33b67f"/><text x="459" y="2203" dy=".28em" font-size="44">water quality</text></g>
<g id="node-distribution-system"><circle cx="1442" cy="2280" r="17" fill="#2f9aa0"/><text x="1442" y="2280" dy=".28em" font-size="38">distribution system</text></g>
<g id="node-failure-rate"><circle cx="1171" cy="2396" r="17" fill="#5fcb5c"/><text x="1171" y="2396" dy=".28em" font-size="41">failure rate</text></g>
<g id="node-water-pipe-network"><circle cx="445" cy="2483" r="15" fill="#f0e01e"/><text x="445" y="2483" dy=".28em" font-size="38">water-pipe network</text></g>
<g id="node-water-losses"><circle cx="850" cy="2473" r="20" fill="#4c7cb3"/><text x="850" y="2473" dy=".28em" font-size="41">water losses</text></g>
<g id="node-water-networks"><circle cx="2066" cy="2538" r="17" fill="#c3dd37"/><text x="2066" y="2538" dy=".28em" font-size="38">water networks</text></g>
<g id="node-hydraulic-models"><circle cx="2591" cy="2556" r="19" fill="#48c47a"/><text x="2591" y="2556" dy=".28em" font-size="40">hydraulic models</text></g>
<g id="node-numerical-model"><circle cx="1627" cy="2663" r="15" fill="#5c4f9f"/><text x="1627" y="2663" dy=".28em" font-size="38">numerical model</text></g>
</g>
<g id="legend">
<rect x="2092" y="2738" width="1030" height="152" rx="32" fill="#fff" stroke="#cfcfcf" stroke-width="3"/>
<rect x="2120" y="2762" width="968" height="55" fill="url(#vir)" stroke="#8a8a8a" stroke-width="3"/>
<g stroke="#777" stroke-width="3">
<line x1="2168" y1="2795" x2="2168" y2="2835"/><line x1="2386" y1="2795" x2="2386" y2="2835"/><line x1="2604" y1="2795" x2="2604" y2="2835"/><line x1="2821" y1="2795" x2="2821" y2="2835"/><line x1="3037" y1="2795" x2="3037" y2="2835"/>
</g>
<g font-family="Open Sans, DejaVu Sans, sans-serif" font-size="32" fill="#555" text-anchor="middle">
<text x="2168" y="2871">4</text><text x="2386" y="2871">6</text><text x="2604" y="2871">8</text><text x="2821" y="2871">10</text><text x="3037" y="2871">12</text>
</g>
</g>
</svg>
